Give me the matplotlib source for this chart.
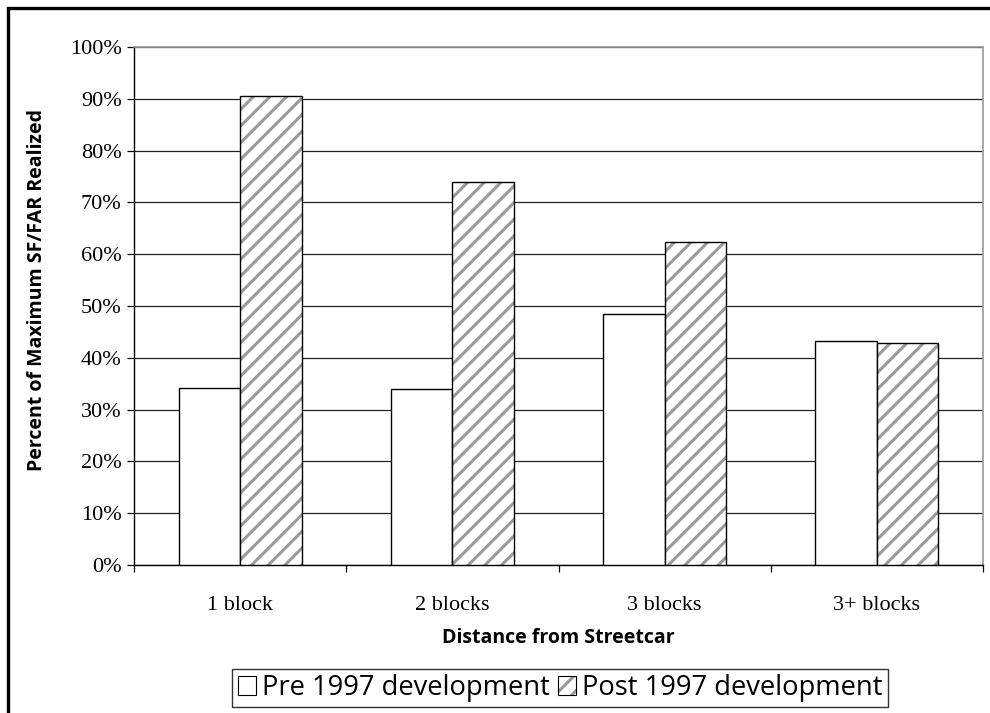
import matplotlib.pyplot as plt
import numpy as np
from matplotlib.patches import Patch, Rectangle
from matplotlib.legend_handler import HandlerTuple
from matplotlib.ticker import FixedLocator, PercentFormatter

# Daten
categories = ['1 block', '2 blocks', '3 blocks', '3+ blocks']
pre_1997 = [34.2, 34.0, 48.5, 43.3]
post_1997 = [90.5, 73.9, 62.4, 42.9]
y_ticks = list(range(0, 101, 10))

plt.rcParams['hatch.linewidth'] = 2.2

fig = plt.figure(figsize=(9.9, 7.13), dpi=100)
ax = fig.add_axes([134 / 990, 1 - 565 / 713, (983 - 134) / 990, (565 - 47) / 713])

x = np.arange(len(categories))
w = 0.29

# Pre 1997: weiss mit schwarzem Rand
ax.bar(x - w / 2, pre_1997, w, facecolor='white', edgecolor='black', linewidth=1.0, zorder=3)
# Post 1997: graue Schraffur, danach schwarzer Rand
ax.bar(x + w / 2, post_1997, w, facecolor='white', edgecolor='#9a9a9a', hatch='//', linewidth=0, zorder=3)
ax.bar(x + w / 2, post_1997, w, facecolor='none', edgecolor='black', linewidth=1.0, zorder=4)

ax.set_xlim(-0.5, len(categories) - 0.5)
ax.set_ylim(0, 100)
ax.yaxis.set_major_locator(FixedLocator(y_ticks))
ax.yaxis.set_major_formatter(PercentFormatter(decimals=0))
ax.grid(axis='y', color='#222222', linewidth=0.9, zorder=0)

# X-Ticks an den Gruppengrenzen, Beschriftung in der Mitte
ax.set_xticks(np.arange(-0.5, len(categories), 1.0))
ax.set_xticklabels([])
ax.set_xticks(x, minor=True)
ax.set_xticklabels(categories, minor=True)
ax.tick_params(axis='x', which='minor', length=0, pad=22)
ax.tick_params(axis='both', which='major', direction='out', length=5, width=0.9, color='black')

for lbl in ax.get_xticklabels(minor=True) + ax.get_yticklabels():
    lbl.set_fontfamily('Liberation Serif')
    lbl.set_fontsize(16)
ax.tick_params(axis='y', pad=4)

for s in ['top', 'right']:
    ax.spines[s].set_color('#999999')
    ax.spines[s].set_linewidth(1.2)
for s in ['left', 'bottom']:
    ax.spines[s].set_color('black')
    ax.spines[s].set_linewidth(1.0)

ax.set_ylabel('Percent of Maximum SF/FAR Realized', fontfamily='Open Sans',
              fontweight='bold', fontsize=14)
ax.yaxis.set_label_coords(-0.102, 0.531)
ax.set_xlabel('Distance from Streetcar', fontfamily='Open Sans',
              fontweight='bold', fontsize=14, labelpad=10)

# Legende
h_pre = Patch(facecolor='white', edgecolor='black', linewidth=0.8)
h_post_fill = Patch(facecolor='white', edgecolor='#9a9a9a', hatch='//', linewidth=0)
h_post_edge = Patch(facecolor='none', edgecolor='black', linewidth=0.8)
leg = fig.legend([h_pre, (h_post_fill, h_post_edge)],
                 ['Pre 1997 development', 'Post 1997 development'],
                 handler_map={tuple: HandlerTuple(ndivide=1, pad=0)},
                 loc='center', bbox_to_anchor=(560 / 990, 1 - 688 / 713),
                 ncol=2, frameon=True, fancybox=False, edgecolor='black',
                 prop={'family': 'Open Sans', 'size': 19.7},
                 handlelength=0.65, handleheight=0.65, handletextpad=0.22,
                 columnspacing=0.3, borderpad=0.2, borderaxespad=0)
leg.get_frame().set_linewidth(1.0)

# Rahmen um die Abbildung (rechts und unten abgeschnitten)
fig.patches.append(Rectangle((8 / 990, -0.1), 1.2, 1 - 8 / 713 + 0.1,
                             transform=fig.transFigure, fill=False,
                             edgecolor='black', linewidth=2.4, zorder=10))

fig.savefig('out.png', dpi=100)
